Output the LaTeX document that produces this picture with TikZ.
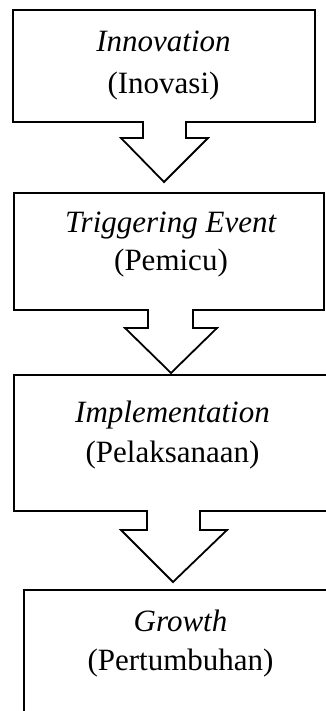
\documentclass[tikz,border=0pt]{standalone}
\usepackage{fontspec}
\setmainfont{Liberation Serif}
\begin{document}
\begin{tikzpicture}[x=1pt,y=-1pt]
  \tikzstyle{bloc}=[draw=black, line width=1.8pt, line join=miter, fill=white]
  \tikzstyle{texte}=[anchor=base, inner sep=0pt, font=\fontsize{31}{40}\selectfont]
  \useasboundingbox (0,0) rectangle (326,711);
  \clip (0,0) rectangle (326,711);
  \foreach \l/\t/\r/\b/\sl/\sr/\hb/\hl/\hr/\tx/\ty in {
      13/10/315/122/143/186/138/121/208/164/182,
      14/193/324/310/148/193/328/125/217/171/373,
      14/375/333/511/147/200/530/121/227/173/582} {
    \draw[bloc] (\l,\t) -- (\r,\t) -- (\r,\b) -- (\sr,\b) -- (\sr,\hb)
      -- (\hr,\hb) -- (\tx,\ty) -- (\hl,\hb) -- (\sl,\hb) -- (\sl,\b)
      -- (\l,\b) -- cycle;
  }
  \draw[bloc] (24,590) rectangle (338,740);
  \foreach \n/\x/\y/\z/\en/\id in {
      inno/163.5/52/94/Innovation/Inovasi,
      pemicu/171/233/270/Triggering Event/Pemicu,
      impl/172.5/422/462/Implementation/Pelaksanaan,
      growth/180.5/631/670/Growth/Pertumbuhan} {
    \node[texte] (\n-en) at (\x,\y) {\textit{\en}};
    \node[texte] (\n-id) at (\x,\z) {(\id)};
  }
\end{tikzpicture}
\end{document}
